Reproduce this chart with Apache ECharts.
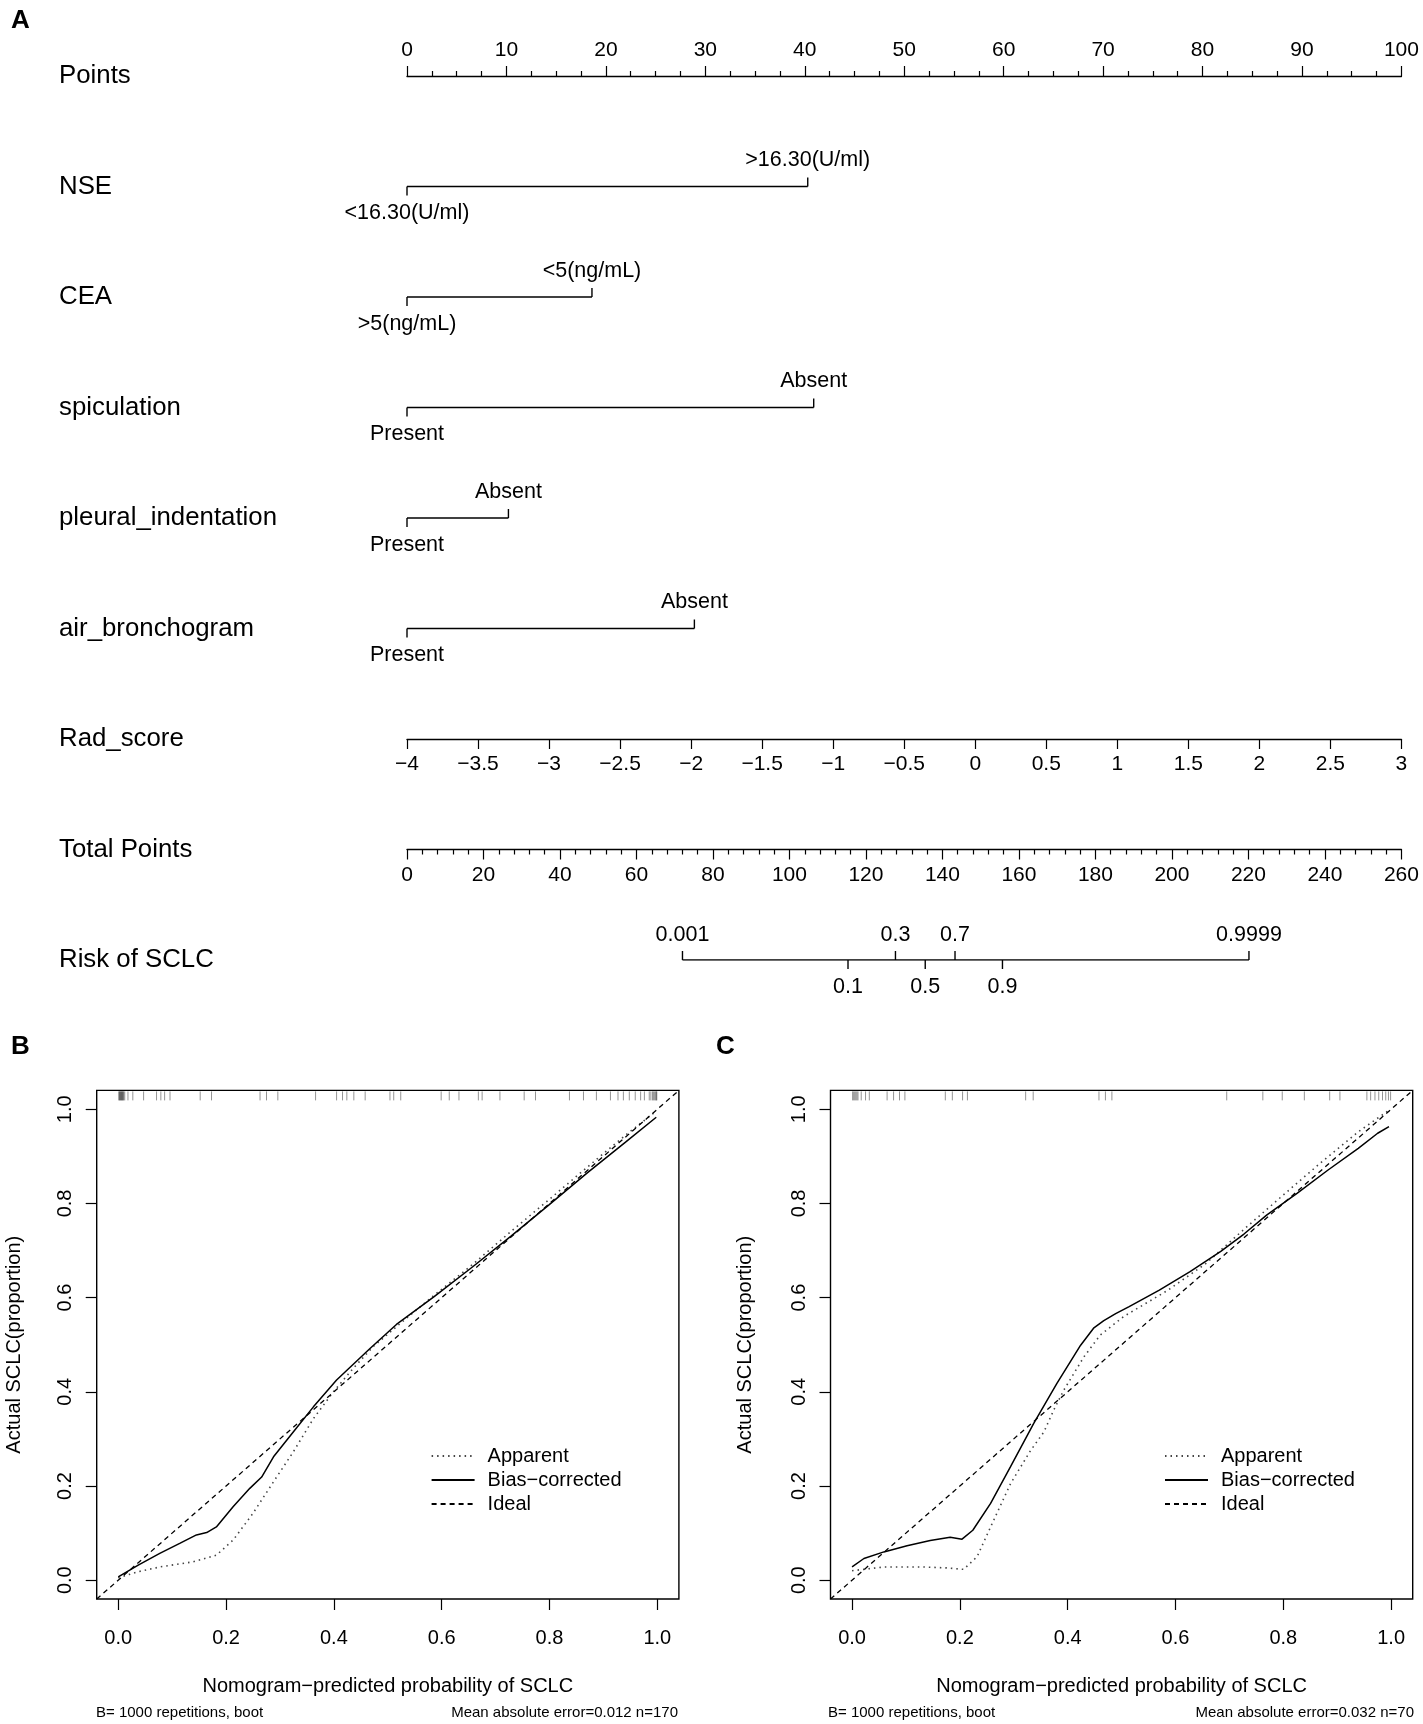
<!DOCTYPE html>
<html><head><meta charset="utf-8">
<script src="https://cdn.jsdelivr.net/npm/echarts@6/dist/echarts.min.js"></script>
<style>html,body{margin:0;padding:0;background:#fff}#c{width:1423px;height:1724px}</style>
</head><body><div id="c"></div>
<script>
// ---------- Panel A: nomogram ----------
const rowNames = ['Points','NSE','CEA','spiculation','pleural_indentation','air_bronchogram','Rad_score','Total Points','Risk of SCLC'];
const varMaxPoints = [40.3, 18.6, 40.9, 10.2, 28.9];
const varLowLabels = ['<16.30(U/ml)','>5(ng/mL)','Present','Present','Present'];
const varHighLabels = ['>16.30(U/ml)','<5(ng/mL)','Absent','Absent','Absent'];
const pointsRange = [0, 100];
const radScoreRange = [-4, 3];
const totalPointsRange = [0, 260];
const riskTicks = [0.001, 0.1, 0.3, 0.5, 0.7, 0.9, 0.9999];
const riskTickAbove = [true, false, true, false, true, false, true];
const riskTotalAtHalf = 135.5;   // total points where risk = 0.5
const riskPointsPerLogit = 9.19; // total points per unit of log-odds

// ---------- Panels B and C: calibration ----------
const bApparent = [[0,0.005],[0.037,0.018],[0.077,0.028],[0.139,0.039],[0.182,0.053],[0.213,0.085],[0.25,0.142],[0.288,0.209],[0.325,0.273],[0.362,0.343],[0.399,0.4],[0.436,0.45],[0.473,0.496],[0.523,0.545],[0.586,0.605],[0.657,0.67],[0.728,0.74],[0.799,0.808],[0.87,0.877],[0.941,0.945],[0.998,0.996]];
const bBias = [[0,0.007],[0.037,0.032],[0.077,0.057],[0.114,0.078],[0.145,0.096],[0.164,0.101],[0.182,0.113],[0.213,0.156],[0.244,0.195],[0.266,0.219],[0.288,0.262],[0.325,0.315],[0.362,0.368],[0.405,0.425],[0.467,0.492],[0.516,0.543],[0.586,0.602],[0.657,0.665],[0.728,0.73],[0.799,0.797],[0.87,0.865],[0.941,0.93],[0.998,0.983]];
const cApparent = [[0,0.02],[0.022,0.023],[0.059,0.028],[0.133,0.028],[0.176,0.026],[0.207,0.023],[0.232,0.05],[0.257,0.113],[0.294,0.205],[0.331,0.275],[0.356,0.315],[0.374,0.361],[0.393,0.404],[0.43,0.474],[0.46,0.52],[0.504,0.56],[0.585,0.615],[0.656,0.672],[0.727,0.745],[0.797,0.815],[0.868,0.885],[0.939,0.952],[0.996,0.998]];
const cBias = [[0,0.028],[0.022,0.046],[0.059,0.06],[0.102,0.073],[0.145,0.084],[0.182,0.091],[0.204,0.087],[0.224,0.106],[0.257,0.163],[0.294,0.241],[0.337,0.333],[0.38,0.418],[0.424,0.499],[0.448,0.535],[0.467,0.551],[0.489,0.566],[0.514,0.581],[0.57,0.616],[0.627,0.655],[0.684,0.698],[0.727,0.735],[0.769,0.775],[0.826,0.822],[0.883,0.871],[0.939,0.917],[0.975,0.949],[0.996,0.963]];
const idealLine = [[-0.04,-0.04],[1.04,1.04]];
const bRug = [0.001,0.002,0.003,0.004,0.005,0.006,0.007,0.008,0.009,0.01,0.012,0.018,0.027,0.047,0.071,0.079,0.086,0.096,0.152,0.173,0.263,0.275,0.296,0.366,0.405,0.416,0.424,0.437,0.458,0.504,0.511,0.524,0.599,0.614,0.632,0.668,0.675,0.708,0.753,0.774,0.837,0.863,0.887,0.913,0.927,0.937,0.948,0.959,0.969,0.976,0.985,0.988,0.991,0.993,0.995,0.997,0.998,0.999];
const cRug = [0.001,0.003,0.005,0.007,0.009,0.011,0.017,0.025,0.032,0.065,0.077,0.088,0.098,0.173,0.186,0.205,0.214,0.322,0.336,0.458,0.47,0.482,0.695,0.762,0.798,0.839,0.886,0.905,0.955,0.962,0.97,0.977,0.984,0.99,0.995,0.999];
const calTicks = [0, 0.2, 0.4, 0.6, 0.8, 1.0];
const legendNames = ['Apparent', 'Bias\u2212corrected', 'Ideal'];
const xTitle = 'Nomogram\u2212predicted probability of SCLC';
const yTitle = 'Actual SCLC(proportion)';
const footLeft = ['B= 1000 repetitions, boot', 'B= 1000 repetitions, boot'];
const footRight = ['Mean absolute error=0.012 n=170', 'Mean absolute error=0.032 n=70'];

const FONT = '"Liberation Sans", Arial, Helvetica, sans-serif';
const chart = echarts.init(document.getElementById('c'), null, {renderer: 'canvas'});

const ROW0 = 76, ROWH = 110.5, AL = 407, AR = 21.6;
const minus = v => String(v).replace('-', '\u2212');
const logit = p => Math.log(p / (1 - p));
const riskTP = p => riskTotalAtHalf + riskPointsPerLogit * logit(p);

function varRender(params, api) {
  const i = params.dataIndex;
  const row = api.value(1);
  const p0 = api.coord([0, row]);
  const p1 = api.coord([api.value(0), row]);
  const ls = {stroke: '#000', lineWidth: 1.4};
  const ts = {font: '21.5px ' + FONT, fill: '#000', align: 'center', verticalAlign: 'middle'};
  return {type: 'group', children: [
    {type: 'line', shape: {x1: p0[0], y1: p0[1], x2: p1[0], y2: p1[1]}, style: ls},
    {type: 'line', shape: {x1: p0[0], y1: p0[1], x2: p0[0], y2: p0[1] + 9}, style: ls},
    {type: 'line', shape: {x1: p1[0], y1: p1[1], x2: p1[0], y2: p1[1] - 9}, style: ls},
    {type: 'text', style: Object.assign({text: varLowLabels[i], x: p0[0], y: p0[1] + 27}, ts)},
    {type: 'text', style: Object.assign({text: varHighLabels[i], x: p1[0], y: p1[1] - 26}, ts)}
  ]};
}
function riskRender(params, api) {
  const i = params.dataIndex;
  const p = api.coord([api.value(0), api.value(1)]);
  const up = riskTickAbove[i];
  const ls = {stroke: '#000', lineWidth: 1.4};
  return {type: 'group', children: [
    {type: 'line', shape: {x1: p[0], y1: p[1], x2: p[0], y2: p[1] + (up ? -9 : 9)}, style: ls},
    {type: 'text', style: {text: String(riskTicks[i]), x: p[0], y: p[1] + (up ? -25 : 27), font: '21.5px ' + FONT, fill: '#000', align: 'center', verticalAlign: 'middle'}}
  ]};
}
function rugRender(params, api) {
  const p = api.coord([api.value(0), 1.04]);
  return {type: 'line', shape: {x1: p[0], y1: p[1] + 1, x2: p[0], y2: p[1] + 10}, style: {stroke: 'rgba(0,0,0,0.42)', lineWidth: 1}};
}

const calGrid = (left) => ({left: left, top: 1090.4, width: 582.2, height: 508.6, show: true, borderColor: '#000', borderWidth: 1.4, backgroundColor: 'transparent'});
const calX = (gi) => ({gridIndex: gi, type: 'value', min: -0.04, max: 1.04,
  axisLine: {show: false, onZero: false}, splitLine: {show: false},
  axisTick: {show: true, inside: false, length: 11, lineStyle: {color: '#000', width: 1.2}, customValues: calTicks},
  axisLabel: {customValues: calTicks, formatter: v => v.toFixed(1), margin: 29, fontSize: 20, fontFamily: FONT, color: '#000'},
  name: xTitle, nameLocation: 'middle', nameGap: 77, nameTextStyle: {fontSize: 20, fontFamily: FONT, color: '#000'}});
const calY = (gi, gap) => ({gridIndex: gi, type: 'value', min: -0.04, max: 1.04,
  axisLine: {show: false, onZero: false}, splitLine: {show: false},
  axisTick: {show: true, inside: false, length: 11, lineStyle: {color: '#000', width: 1.2}, customValues: calTicks},
  axisLabel: {customValues: calTicks, formatter: v => v.toFixed(1), rotate: 90, margin: 21, fontSize: 20, fontFamily: FONT, color: '#000'},
  name: yTitle, nameLocation: 'middle', nameGap: gap, nameTextStyle: {fontSize: 20, fontFamily: FONT, color: '#000'}});

const lineSeries = (name, data, xi, yi, type, color, width) => ({
  name: name, type: 'line', xAxisIndex: xi, yAxisIndex: yi, data: data, symbol: 'none', smooth: false,
  lineStyle: {color: color, width: width, type: type}, itemStyle: {color: color}, silent: true, clip: true
});
const legendCommon = {orient: 'vertical', itemWidth: 43, itemHeight: 14, itemGap: 4, selectedMode: false,
  itemStyle: {color: 'rgba(0,0,0,0)', borderColor: 'rgba(0,0,0,0)', borderWidth: 0},
  data: legendNames, textStyle: {fontSize: 20, fontFamily: FONT, color: '#000', lineHeight: 20, padding: [0, 0, 0, 8]}};

const option = {
  animation: false,
  backgroundColor: '#fff',
  textStyle: {fontFamily: FONT},
  grid: [
    {left: AL, right: AR, top: ROW0, height: ROWH * 8},
    {left: AL, right: AR, top: ROW0 + ROWH * 6 - 10, height: 10},
    {left: AL, right: AR, top: ROW0 + ROWH * 7 - 10, height: 10},
    calGrid(96.7),
    calGrid(830.5)
  ],
  xAxis: [
    {gridIndex: 0, type: 'value', position: 'top', min: pointsRange[0], max: pointsRange[1], interval: 10,
      axisLine: {show: true, onZero: false, lineStyle: {color: '#000', width: 1.4}},
      axisTick: {show: true, length: 10, lineStyle: {color: '#000', width: 1.2}},
      minorTick: {show: true, splitNumber: 4, length: 5, lineStyle: {color: '#000', width: 1.2}},
      splitLine: {show: false}, minorSplitLine: {show: false},
      axisLabel: {margin: 15, fontSize: 21, fontFamily: FONT, color: '#000'}},
    {gridIndex: 0, type: 'value', show: false, min: totalPointsRange[0], max: totalPointsRange[1]},
    {gridIndex: 1, type: 'value', position: 'bottom', min: radScoreRange[0], max: radScoreRange[1], interval: 0.5,
      axisLine: {show: true, onZero: false, lineStyle: {color: '#000', width: 1.4}},
      axisTick: {show: true, length: 10, lineStyle: {color: '#000', width: 1.2}},
      splitLine: {show: false},
      axisLabel: {margin: 15, fontSize: 21, fontFamily: FONT, color: '#000', formatter: minus}},
    {gridIndex: 2, type: 'value', position: 'bottom', min: totalPointsRange[0], max: totalPointsRange[1], interval: 20,
      axisLine: {show: true, onZero: false, lineStyle: {color: '#000', width: 1.4}},
      axisTick: {show: true, length: 10, lineStyle: {color: '#000', width: 1.2}},
      minorTick: {show: true, splitNumber: 5, length: 5, lineStyle: {color: '#000', width: 1.2}},
      splitLine: {show: false}, minorSplitLine: {show: false},
      axisLabel: {margin: 15, fontSize: 21, fontFamily: FONT, color: '#000'}},
    calX(3),
    calX(4)
  ],
  yAxis: [
    {gridIndex: 0, type: 'category', inverse: true, boundaryGap: false, data: rowNames,
      axisLine: {show: false}, axisTick: {show: false}, splitLine: {show: false},
      axisLabel: {interval: 0, align: 'left', margin: AL - 59, fontSize: 25.8, fontFamily: FONT, color: '#000'}},
    {gridIndex: 1, type: 'value', show: false, min: 0, max: 1},
    {gridIndex: 2, type: 'value', show: false, min: 0, max: 1},
    calY(3, 72),
    calY(4, 75)
  ],
  legend: [
    Object.assign({left: 425.6, top: 1441}, legendCommon),
    Object.assign({left: 1159, top: 1441}, legendCommon)
  ],
  series: [
    {type: 'custom', xAxisIndex: 0, yAxisIndex: 0, renderItem: varRender, silent: true, clip: false,
      data: varMaxPoints.map((v, i) => [v, i + 1])},
    {type: 'line', xAxisIndex: 1, yAxisIndex: 0, symbol: 'none', silent: true,
      lineStyle: {color: '#000', width: 1.4},
      data: [[riskTP(riskTicks[0]), 8], [riskTP(riskTicks[riskTicks.length - 1]), 8]]},
    {type: 'custom', xAxisIndex: 1, yAxisIndex: 0, renderItem: riskRender, silent: true, clip: false,
      data: riskTicks.map(p => [riskTP(p), 8])},
    {type: 'custom', xAxisIndex: 4, yAxisIndex: 3, renderItem: rugRender, silent: true, data: bRug.map(v => [v])},
    {type: 'custom', xAxisIndex: 5, yAxisIndex: 4, renderItem: rugRender, silent: true, data: cRug.map(v => [v])},
    lineSeries(legendNames[0], bApparent, 4, 3, [1.5, 4], '#444', 1.6),
    lineSeries(legendNames[1], bBias, 4, 3, 'solid', '#000', 1.5),
    lineSeries(legendNames[2], idealLine, 4, 3, [5, 4], '#000', 1.3),
    lineSeries(legendNames[0], cApparent, 5, 4, [1.5, 4], '#444', 1.6),
    lineSeries(legendNames[1], cBias, 5, 4, 'solid', '#000', 1.5),
    lineSeries(legendNames[2], idealLine, 5, 4, [5, 4], '#000', 1.3)
  ],
  graphic: [
    {type: 'text', left: 11, top: 8, style: {text: 'A', font: 'bold 26px ' + FONT, fill: '#000'}},
    {type: 'text', left: 11, top: 1034, style: {text: 'B', font: 'bold 26px ' + FONT, fill: '#000'}},
    {type: 'text', left: 716, top: 1034, style: {text: 'C', font: 'bold 26px ' + FONT, fill: '#000'}},
    {type: 'text', left: 96, top: 1705, style: {text: footLeft[0], font: '15px ' + FONT, fill: '#000'}},
    {type: 'text', right: 1423 - 678, top: 1705, style: {text: footRight[0], font: '15px ' + FONT, fill: '#000'}},
    {type: 'text', left: 828, top: 1705, style: {text: footLeft[1], font: '15px ' + FONT, fill: '#000'}},
    {type: 'text', right: 9, top: 1705, style: {text: footRight[1], font: '15px ' + FONT, fill: '#000'}}
  ]
};
chart.setOption(option);
</script></body></html>
